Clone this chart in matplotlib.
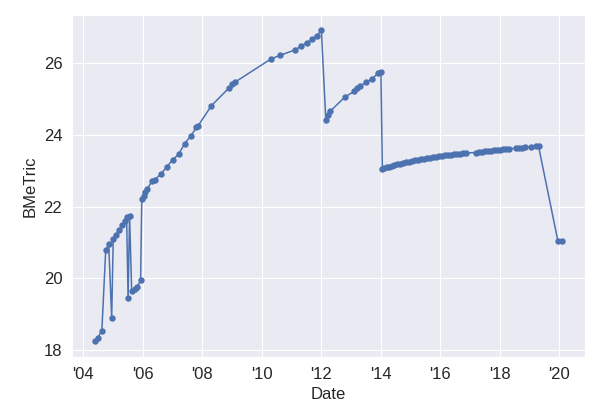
import pandas as pd
import matplotlib
matplotlib.use('Agg')
import matplotlib.pyplot as plt
import matplotlib.dates as mdates
import seaborn as sns

years = [2004.40, 2004.48, 2004.62, 2004.75, 2004.85, 2004.95, 2005.00, 2005.10, 2005.20,
         2005.30, 2005.38, 2005.45, 2005.50, 2005.55, 2005.62, 2005.72, 2005.80, 2005.92,
         2005.96, 2006.02, 2006.08, 2006.15, 2006.30, 2006.40, 2006.60, 2006.80, 2007.00,
         2007.20, 2007.40, 2007.60, 2007.80, 2007.86, 2008.30, 2008.90, 2009.00, 2009.08,
         2010.30, 2010.60, 2011.10, 2011.30, 2011.50, 2011.70, 2011.85, 2012.00,
         2012.15, 2012.22, 2012.30, 2012.80, 2013.10, 2013.20, 2013.30, 2013.50, 2013.70,
         2013.90, 2014.00,
         2014.05, 2014.12, 2014.20, 2014.28, 2014.36, 2014.45, 2014.55, 2014.65, 2014.75,
         2014.85, 2014.95, 2015.05, 2015.15, 2015.25, 2015.35, 2015.45, 2015.55, 2015.65,
         2015.75, 2015.85, 2015.95, 2016.05, 2016.15, 2016.25, 2016.35, 2016.45, 2016.55,
         2016.65, 2016.75, 2016.85, 2017.20, 2017.30, 2017.40, 2017.50, 2017.60, 2017.70,
         2017.80, 2017.90, 2018.00, 2018.10, 2018.20, 2018.30, 2018.55, 2018.65, 2018.75,
         2018.85, 2019.05, 2019.20, 2019.30, 2019.95, 2020.08]
bmetric = [18.25, 18.35, 18.55, 20.80, 20.95, 18.90, 21.10, 21.20, 21.35,
           21.50, 21.60, 21.70, 19.45, 21.75, 19.65, 19.70, 19.75, 19.95,
           22.20, 22.30, 22.40, 22.50, 22.70, 22.75, 22.90, 23.10, 23.30,
           23.45, 23.75, 23.95, 24.20, 24.25, 24.80, 25.30, 25.40, 25.45,
           26.10, 26.20, 26.35, 26.45, 26.55, 26.65, 26.75, 26.90,
           24.40, 24.55, 24.65, 25.05, 25.20, 25.30, 25.35, 25.45, 25.55,
           25.70, 25.75,
           23.05, 23.07, 23.09, 23.11, 23.13, 23.15, 23.17, 23.19, 23.21,
           23.23, 23.25, 23.27, 23.28, 23.30, 23.31, 23.33, 23.34, 23.36,
           23.37, 23.38, 23.40, 23.41, 23.42, 23.43, 23.44, 23.45, 23.46,
           23.47, 23.48, 23.49, 23.50, 23.51, 23.52, 23.53, 23.54, 23.55,
           23.56, 23.57, 23.58, 23.59, 23.60, 23.61, 23.62, 23.63, 23.64,
           23.65, 23.66, 23.67, 23.68, 21.05, 21.05]

def to_date(y):
    yr = int(y)
    return pd.Timestamp(yr, 1, 1) + pd.Timedelta(days=(y - yr) * 365.25)

dates = [to_date(y) for y in years]

sns.set_style('darkgrid')
plt.rcParams['font.family'] = ['Arial', 'Liberation Sans', 'DejaVu Sans']
fig, ax = plt.subplots(figsize=(6, 4.2), dpi=100)
fig.subplots_adjust(left=0.12, right=0.975, bottom=0.15, top=0.965)
ax.plot(dates, bmetric, color='#4c72b0', marker='o', markersize=3.6, linewidth=1.1)
ax.xaxis.set_major_locator(mdates.YearLocator(2))
ax.xaxis.set_major_formatter(mdates.DateFormatter("'%y"))
ax.set_yticks([18, 20, 22, 24, 26])
ax.tick_params(labelsize=12)
ax.set_xlabel('Date', fontsize=12)
ax.set_ylabel('BMeTric', fontsize=12)
fig.savefig('out.png')
